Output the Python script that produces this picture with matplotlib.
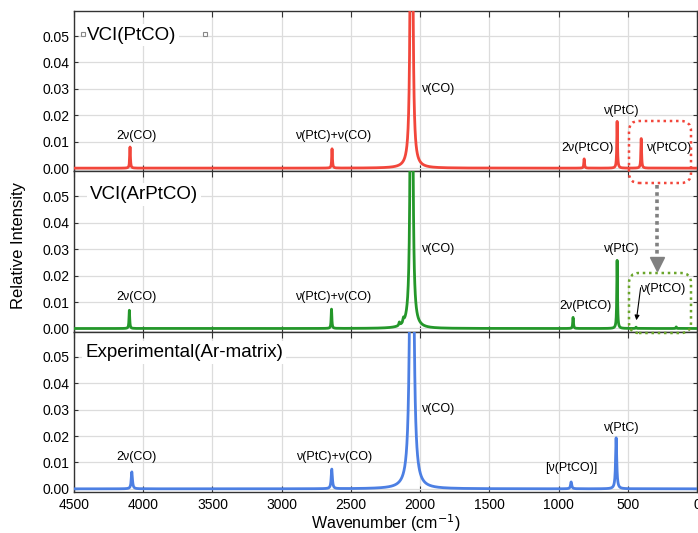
import numpy as np
import matplotlib
matplotlib.use("Agg")
import matplotlib.pyplot as plt
from matplotlib.patches import FancyBboxPatch, FancyArrowPatch
from matplotlib.lines import Line2D

plt.rcParams['font.family'] = ['Liberation Sans', 'DejaVu Sans']

# peak centres (cm-1), heights and half widths for each spectrum
vci_pos = [4095, 2636, 2062, 815, 577, 403]
vci_amp = [0.0080, 0.0073, 0.55, 0.0035, 0.0177, 0.0112]
vci_hw = [3.0, 3.0, 4.2, 3.0, 3.0, 3.0]

ar_pos = [4100, 2640, 2150, 2120, 2062, 895, 577, 440, 150]
ar_amp = [0.0069, 0.0073, 0.0012, 0.0015, 0.55, 0.0042, 0.0258, 0.0005, 0.0006]
ar_hw = [3.0, 3.0, 4.0, 4.0, 4.2, 3.0, 3.0, 3.0, 3.0]

exp_pos = [4082, 2638, 2060, 909, 584]
exp_amp = [0.0064, 0.0074, 0.40, 0.0026, 0.0193]
exp_hw = [5.0, 5.0, 7.5, 5.0, 5.0]

titles = ["VCI(PtCO)", "VCI(ArPtCO)", "Experimental(Ar-matrix)"]
colors = ["#f2463b", "#24972a", "#4c7fe3"]

# peak labels: (text, wavenumber, intensity, ha)
labels_vci = [("2ν(CO)", 4052, 0.0123, 'center'),
              ("ν(PtC)+ν(CO)", 2625, 0.0123, 'center'),
              ("ν(CO)", 1993, 0.0298, 'left'),
              ("2ν(PtCO)", 794, 0.0077, 'center'),
              ("ν(PtC)", 548, 0.0216, 'center'),
              ("ν(PtCO)", 367, 0.0077, 'left')]
labels_ar = [("2ν(CO)", 4052, 0.0120, 'center'),
             ("ν(PtC)+ν(CO)", 2625, 0.0120, 'center'),
             ("ν(CO)", 1993, 0.0300, 'left'),
             ("2ν(PtCO)", 808, 0.0085, 'center'),
             ("ν(PtC)", 548, 0.0300, 'center'),
             ("ν(PtCO)", 411, 0.0150, 'left')]
labels_exp = [("2ν(CO)", 4052, 0.0122, 'center'),
              ("ν(PtC)+ν(CO)", 2620, 0.0122, 'center'),
              ("ν(CO)", 1993, 0.0301, 'left'),
              ("[ν(PtCO)]", 912, 0.0079, 'center'),
              ("ν(PtC)", 548, 0.0229, 'center')]


def spectrum(x, pos, amp, hw):
    y = np.zeros_like(x)
    for p, a, g in zip(pos, amp, hw):
        y += a * g**2 / ((x - p)**2 + g**2)
    return y


def main():
    x = np.linspace(0, 4500, 18001)
    fig, axes = plt.subplots(3, 1, figsize=(6.98, 5.33), dpi=100, sharex=True)
    fig.subplots_adjust(left=0.106, right=0.9986, top=0.9794, bottom=0.0769, hspace=0)

    spectra = [(vci_pos, vci_amp, vci_hw), (ar_pos, ar_amp, ar_hw), (exp_pos, exp_amp, exp_hw)]
    all_labels = [labels_vci, labels_ar, labels_exp]
    title_x = [4406, 4384, 4420]
    title_y = [0.0504, 0.0508, 0.0515]

    for i, ax in enumerate(axes):
        pos, amp, hw = spectra[i]
        ax.plot(x, spectrum(x, pos, amp, hw), color=colors[i], lw=2, zorder=3)
        ax.set_xlim(4500, 0)
        ax.set_ylim(-0.0012, 0.0595)
        ax.set_xticks(np.arange(0, 4501, 500))
        ax.set_yticks(np.arange(0, 0.051, 0.01))
        ax.yaxis.set_major_formatter(matplotlib.ticker.FormatStrFormatter('%.2f'))
        ax.grid(True, color='#dcdcdc', lw=0.9)
        ax.set_axisbelow(True)
        ax.tick_params(axis='x', direction='in', top=True, bottom=True, length=4,
                       labelsize=10, color='#333333', pad=4)
        ax.tick_params(axis='y', direction='out', left=True, right=False, length=3,
                       labelsize=10, color='#333333')
        ax.tick_params(axis='y', which='both', right=True, direction='in')
        for s in ax.spines.values():
            s.set_color('#333333')
            s.set_linewidth(1.0)

        ax.text(title_x[i], title_y[i], titles[i], fontsize=13.5, va='center', ha='left',
                bbox=dict(facecolor='white', edgecolor='none', pad=2), zorder=4)

        for txt, wx, wy, ha in all_labels[i]:
            ax.text(wx, wy, txt, fontsize=9, ha=ha, va='center', zorder=5)

    # edit handles next to the first title
    axes[0].plot([0.014, 0.210], [0.855, 0.855], ls='none', marker='s', ms=3.5,
                 mfc='white', mec='#888888', mew=0.8, transform=axes[0].transAxes,
                 clip_on=False, zorder=6)

    H = 533.0
    fig.text((74 + 697) / 2 / 698, (H - 529) / H, "Wavenumber (cm$^{-1}$)", fontsize=11.5,
             ha='center', va='baseline')
    fig.text(0.026, 0.54, "Relative Intensity", rotation=90, fontsize=12,
             ha='center', va='center')

    # dotted boxes, arrows (figure pixel coordinates -> inches)
    def box(x0, y0, x1, y1, col):
        p = FancyBboxPatch((x0 / 100, (H - y1) / 100), (x1 - x0) / 100, (y1 - y0) / 100,
                           boxstyle="round,pad=0,rounding_size=0.1",
                           transform=fig.dpi_scale_trans, fill=False, ec=col,
                           ls=(0, (1, 1.5)), lw=1.8, clip_on=False)
        fig.add_artist(p)

    box(629, 121, 691, 183, '#f2463b')
    box(629, 273, 691, 333, '#6aa52a')

    fig.add_artist(Line2D([657 / 100, 657 / 100], [(H - 185) / 100, (H - 258) / 100],
                          transform=fig.dpi_scale_trans, color='#808080', lw=2.6,
                          ls=(0, (1, 1))))
    fig.add_artist(Line2D([657 / 100], [(H - 264) / 100], transform=fig.dpi_scale_trans,
                          marker='v', ms=10, color='#808080', ls='none'))

    arr = FancyArrowPatch((641 / 100, (H - 285) / 100), (636 / 100, (H - 323) / 100),
                          transform=fig.dpi_scale_trans, arrowstyle='-|>',
                          mutation_scale=7, color='black', lw=0.8)
    fig.add_artist(arr)

    fig.savefig("out.png", dpi=100)


if __name__ == '__main__':
    main()
